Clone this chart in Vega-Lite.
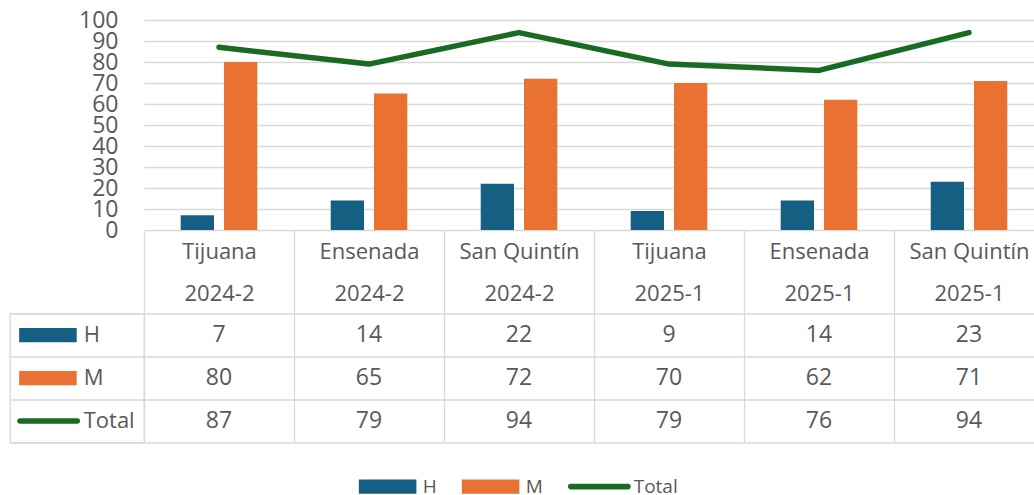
{
  "$schema": "https://vega.github.io/schema/vega-lite/v6.json",
  "padding": {"left": 9, "top": 9, "right": 0, "bottom": 0},
  "background": "white",
  "bounds": "flush",
  "columns": 2,
  "spacing": {"row": 83.5, "column": 0},
  "resolve": {"scale": {"color": "shared", "shape": "shared"}},
  "datasets": {
    "tabla": [
      {"grupo": "Tijuana 2024-2", "serie": "H", "valor": 7},
      {"grupo": "Ensenada 2024-2", "serie": "H", "valor": 14},
      {"grupo": "San Quintín 2024-2", "serie": "H", "valor": 22},
      {"grupo": "Tijuana 2025-1", "serie": "H", "valor": 9},
      {"grupo": "Ensenada 2025-1", "serie": "H", "valor": 14},
      {"grupo": "San Quintín 2025-1", "serie": "H", "valor": 23},
      {"grupo": "Tijuana 2024-2", "serie": "M", "valor": 80},
      {"grupo": "Ensenada 2024-2", "serie": "M", "valor": 65},
      {"grupo": "San Quintín 2024-2", "serie": "M", "valor": 72},
      {"grupo": "Tijuana 2025-1", "serie": "M", "valor": 70},
      {"grupo": "Ensenada 2025-1", "serie": "M", "valor": 62},
      {"grupo": "San Quintín 2025-1", "serie": "M", "valor": 71},
      {"grupo": "Tijuana 2024-2", "serie": "Total", "valor": 87},
      {"grupo": "Ensenada 2024-2", "serie": "Total", "valor": 79},
      {"grupo": "San Quintín 2024-2", "serie": "Total", "valor": 94},
      {"grupo": "Tijuana 2025-1", "serie": "Total", "valor": 79},
      {"grupo": "Ensenada 2025-1", "serie": "Total", "valor": 76},
      {"grupo": "San Quintín 2025-1", "serie": "Total", "valor": 94}
    ]
  },
  "config": {
    "font": "Open Sans",
    "view": {"stroke": null},
    "axis": {"gridColor": "#D9D9D9", "gridWidth": 1.3, "labelColor": "#595959", "labelFont": "Open Sans", "title": null}
  },
  "concat": [
    {
      "width": 134,
      "height": 210,
      "data": {"values": []},
      "mark": {"type": "text"},
      "encoding": {}
    },
    {
      "width": 900,
      "height": 210,
      "data": {"name": "tabla"},
      "encoding": {
        "x": {
          "field": "grupo",
          "type": "nominal",
          "sort": ["Tijuana 2024-2", "Ensenada 2024-2", "San Quintín 2024-2", "Tijuana 2025-1", "Ensenada 2025-1", "San Quintín 2025-1"],
          "scale": {"paddingInner": 0, "paddingOuter": 0},
          "axis": {
            "title": null, "orient": "bottom", "domain": false, "grid": false,
            "tickBand": "extent", "ticks": true, "tickSize": 83.5, "tickColor": "#D9D9D9", "tickWidth": 1.3,
            "labelAngle": 0, "labelFontSize": 22, "labelBaseline": "alphabetic", "labelPadding": -54.9,
            "labelLineHeight": 41.7, "labelOverlap": false, "labelLimit": 200,
            "labelExpr": "[slice(datum.label, 0, lastindexof(datum.label, ' ')), slice(datum.label, lastindexof(datum.label, ' ') + 1)]"
          }
        },
        "y": {
          "field": "valor",
          "type": "quantitative",
          "scale": {"domain": [0, 100], "nice": false},
          "axis": {
            "title": null, "values": [0, 10, 20, 30, 40, 50, 60, 70, 80, 90, 100],
            "domain": false, "ticks": false, "grid": true, "labelFontSize": 23, "labelPadding": 26,
            "labelOverlap": false, "labelBound": false
          }
        }
      },
      "layer": [
        {
          "transform": [{"filter": "datum.serie !== 'Total'"}],
          "mark": {"type": "bar"},
          "encoding": {
            "xOffset": {"field": "serie", "type": "nominal", "scale": {"paddingInner": 0.231, "paddingOuter": 0.848}},
            "color": {
              "field": "serie",
              "type": "nominal",
              "scale": {"domain": ["H", "M", "Total"], "range": ["#156082", "#E97132", "#196B24"]},
              "legend": {
                "title": null, "orient": "none", "legendX": 378.2, "legendY": 437.8,
                "direction": "horizontal", "padding": 0,
                "symbolSize": 3249, "symbolStrokeWidth": 0,
                "symbolType": {"expr": "datum.value === 'Total' ? 'M-1,-0.1H1A0.1,0.1,0,0,1,1,0.1H-1A0.1,0.1,0,0,1,-1,-0.1Z' : 'M-1.01,-0.25H1.01V0.25H-1.01Z'"},
                "symbolFillColor": {"expr": "scale('color', datum.value)"},
                "symbolOpacity": 1,
                "labelFontSize": 19, "labelColor": "#595959", "labelFont": "Open Sans",
                "labelOffset": -22.5, "columnPadding": 24, "labelLimit": 200
              }
            }
          }
        },
        {
          "transform": [{"filter": "datum.serie === 'Total'"}],
          "mark": {"type": "line", "strokeWidth": 5.5, "strokeCap": "round", "strokeJoin": "round"},
          "encoding": {
            "color": {"field": "serie", "type": "nominal"}
          }
        }
      ]
    },
    {
      "width": 134,
      "height": 129,
      "data": {"name": "tabla"},
      "transform": [{"filter": "datum.grupo === 'Tijuana 2024-2'"}],
      "view": {"stroke": "#D9D9D9", "strokeWidth": 1.3},
      "encoding": {
        "y": {
          "field": "serie", "type": "nominal", "sort": ["H", "M", "Total"],
          "scale": {"paddingInner": 0, "paddingOuter": 0},
          "axis": {"title": null, "labels": false, "ticks": false, "domain": false, "grid": true, "tickBand": "extent"}
        }
      },
      "layer": [
        {
          "mark": {"type": "point", "filled": true, "size": 3249, "opacity": 1},
          "encoding": {
            "color": {"field": "serie", "type": "nominal"},
            "shape": {
              "field": "serie", "type": "nominal",
              "scale": {"domain": ["H", "M", "Total"], "range": ["M-2.03,-0.25H-0.01V0.25H-2.03Z", "M-2.03,-0.25H-0.01V0.25H-2.03Z", "M-2.0,-0.1H0.01A0.1,0.1,0,0,1,0.01,0.1H-2.0A0.1,0.1,0,0,1,-2.0,-0.1Z"]},
              "legend": null
            }
          }
        },
        {
          "mark": {"type": "text", "align": "left", "baseline": "middle", "dx": 6.7, "fontSize": 22, "color": "#595959"},
          "encoding": {"text": {"field": "serie"}}
        }
      ]
    },
    {
      "width": 900,
      "height": 129,
      "data": {"name": "tabla"},
      "mark": {"type": "text", "fontSize": 23, "color": "#595959", "baseline": "middle"},
      "encoding": {
        "x": {
          "field": "grupo", "type": "nominal",
          "sort": ["Tijuana 2024-2", "Ensenada 2024-2", "San Quintín 2024-2", "Tijuana 2025-1", "Ensenada 2025-1", "San Quintín 2025-1"],
          "scale": {"paddingInner": 0, "paddingOuter": 0},
          "axis": {"title": null, "labels": false, "ticks": false, "domain": false, "grid": true, "tickBand": "extent"}
        },
        "y": {
          "field": "serie", "type": "nominal", "sort": ["H", "M", "Total"],
          "scale": {"paddingInner": 0, "paddingOuter": 0},
          "axis": {"title": null, "labels": false, "ticks": false, "domain": false, "grid": true, "tickBand": "extent"}
        },
        "text": {"field": "valor", "type": "quantitative"}
      }
    }
  ]
}
